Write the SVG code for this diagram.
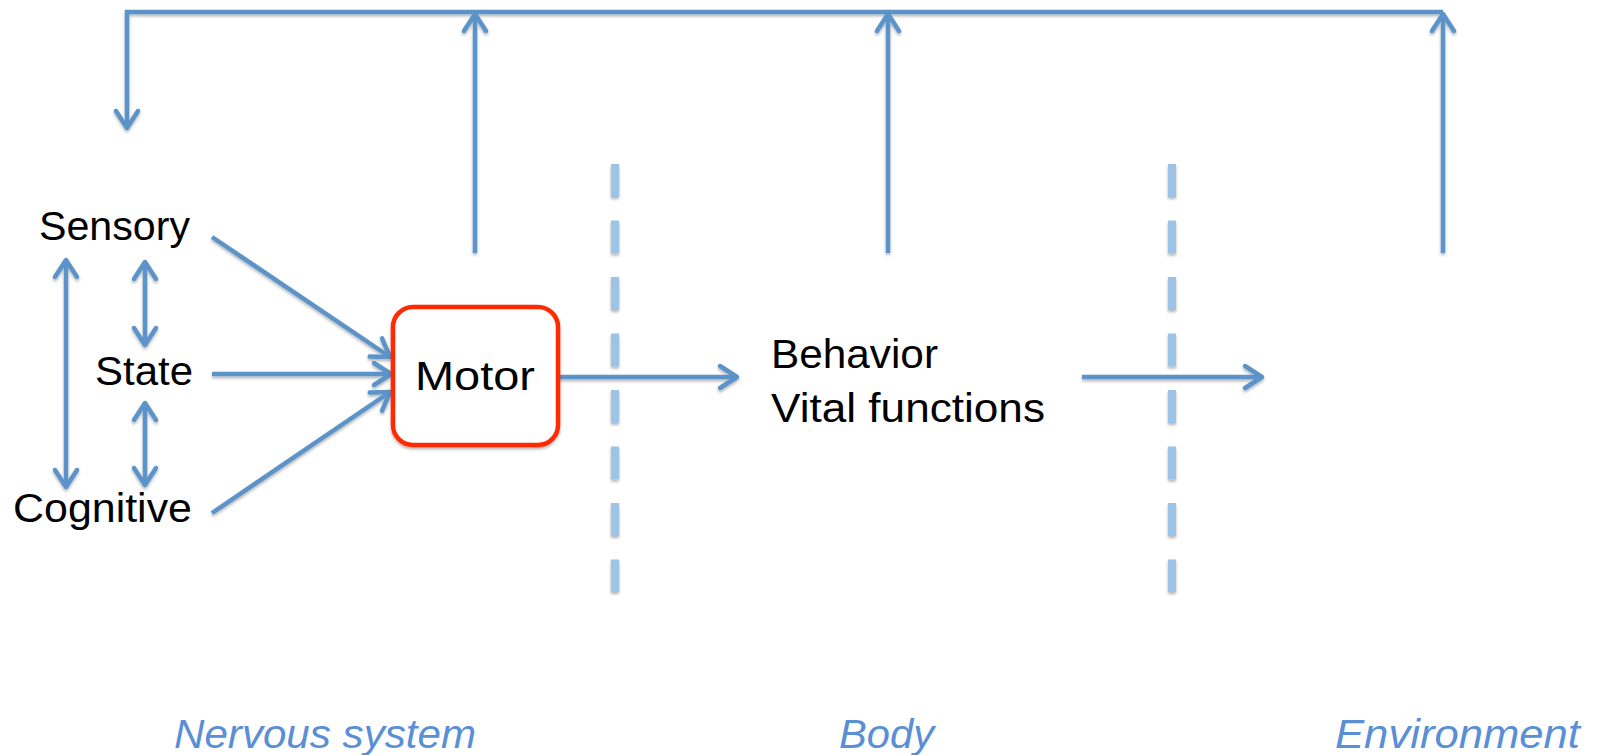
<svg xmlns="http://www.w3.org/2000/svg" width="1600" height="755" viewBox="0 0 1600 755">
  <defs>
    <marker id="arrow" viewBox="-24 -15 28 30" markerWidth="28" markerHeight="30" refX="0" refY="0" markerUnits="userSpaceOnUse" orient="auto-start-reverse">
      <path d="M -17 -11 L 0 0 L -17 11" fill="none" stroke="#5b93c9" stroke-width="4.5" stroke-linecap="round" stroke-linejoin="round"/>
    </marker>
    <filter id="shadow" x="-10%" y="-10%" width="120%" height="130%">
      <feDropShadow dx="0" dy="2" stdDeviation="1.5" flood-color="#000" flood-opacity="0.3"/>
    </filter>
    <style>
      .conn { fill: none; stroke: #5b93c9; stroke-width: 4.5; }
      .dash { fill: none; stroke: #9dc3e6; stroke-width: 8; stroke-dasharray: 33 23.5; }
      .lbl { font-family: "Liberation Sans", Arial, sans-serif; font-size: 40px; fill: #000; }
      .region { font-family: "Liberation Sans", Arial, sans-serif; font-size: 40px; font-style: italic; fill: #5a8fd5; }
    </style>
  </defs>
  <rect width="1600" height="755" fill="#fff"/>

  <g id="dividers" filter="url(#shadow)">
    <line class="dash" x1="615" y1="164" x2="615" y2="592"/>
    <line class="dash" x1="1172" y1="164" x2="1172" y2="592"/>
  </g>

  <g id="connectors" filter="url(#shadow)">
    <polyline class="conn" points="1443,12 127,12 127,128" marker-end="url(#arrow)"/>
    <line class="conn" x1="475" y1="253" x2="475" y2="14" marker-end="url(#arrow)"/>
    <line class="conn" x1="888" y1="253" x2="888" y2="14" marker-end="url(#arrow)"/>
    <line class="conn" x1="1443" y1="253" x2="1443" y2="14" marker-end="url(#arrow)"/>
    <line class="conn" x1="66" y1="260" x2="66" y2="487" marker-start="url(#arrow)" marker-end="url(#arrow)"/>
    <line class="conn" x1="145" y1="262" x2="145" y2="345" marker-start="url(#arrow)" marker-end="url(#arrow)"/>
    <line class="conn" x1="145" y1="403" x2="145" y2="485" marker-start="url(#arrow)" marker-end="url(#arrow)"/>
    <line class="conn" x1="212" y1="237" x2="390" y2="357" marker-end="url(#arrow)"/>
    <line class="conn" x1="212" y1="374" x2="391" y2="374" marker-end="url(#arrow)"/>
    <line class="conn" x1="212" y1="513" x2="390" y2="392" marker-end="url(#arrow)"/>
    <line class="conn" x1="558" y1="377" x2="737" y2="377" marker-end="url(#arrow)"/>
    <line class="conn" x1="1082" y1="377" x2="1262" y2="377" marker-end="url(#arrow)"/>
  </g>

  <g id="sensory">
    <text class="lbl" x="39" y="240" textLength="151" lengthAdjust="spacingAndGlyphs">Sensory</text>
  </g>
  <g id="state">
    <text class="lbl" x="95" y="385" textLength="98" lengthAdjust="spacingAndGlyphs">State</text>
  </g>
  <g id="cognitive">
    <text class="lbl" x="13" y="522" textLength="179" lengthAdjust="spacingAndGlyphs">Cognitive</text>
  </g>
  <g id="motor">
    <rect x="393" y="307" width="165" height="138" rx="20" ry="20" fill="#fff" stroke="#ff2a00" stroke-width="4.5" filter="url(#shadow)"/>
    <text class="lbl" x="415" y="390" textLength="120" lengthAdjust="spacingAndGlyphs">Motor</text>
  </g>
  <g id="behavior">
    <text class="lbl" x="771" y="368" textLength="167" lengthAdjust="spacingAndGlyphs">Behavior</text>
    <text class="lbl" x="771" y="422" textLength="274" lengthAdjust="spacingAndGlyphs">Vital functions</text>
  </g>

  <g id="region-labels">
    <text class="region" x="174" y="748" textLength="302" lengthAdjust="spacingAndGlyphs">Nervous system</text>
    <text class="region" x="839" y="748" textLength="95" lengthAdjust="spacingAndGlyphs">Body</text>
    <text class="region" x="1335" y="748" textLength="245" lengthAdjust="spacingAndGlyphs">Environment</text>
  </g>
</svg>
